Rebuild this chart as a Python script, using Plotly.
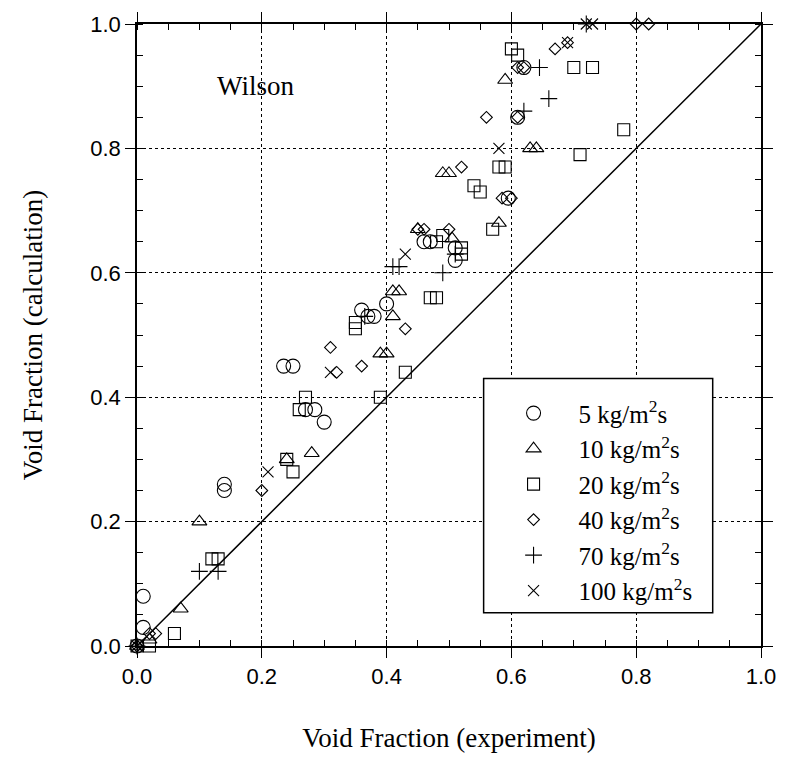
import plotly.graph_objects as go

# ---- data ----
g5_x = [0.0, 0.01, 0.01, 0.14, 0.14, 0.235, 0.25, 0.27, 0.285, 0.30, 0.36, 0.37, 0.38, 0.40, 0.46, 0.47, 0.51, 0.51, 0.595, 0.61, 0.62]
g5_y = [0.0, 0.03, 0.08, 0.25, 0.26, 0.45, 0.45, 0.38, 0.38, 0.36, 0.54, 0.53, 0.53, 0.55, 0.65, 0.65, 0.62, 0.64, 0.72, 0.85, 0.93]

g10_x = [0.0, 0.02, 0.07, 0.10, 0.24, 0.28, 0.39, 0.40, 0.41, 0.41, 0.42, 0.45, 0.505, 0.49, 0.50, 0.58, 0.59, 0.63, 0.64]
g10_y = [0.0, 0.01, 0.06, 0.20, 0.30, 0.31, 0.47, 0.47, 0.53, 0.57, 0.57, 0.67, 0.655, 0.76, 0.76, 0.68, 0.91, 0.80, 0.80]

g20_x = [0.0, 0.02, 0.06, 0.12, 0.13, 0.24, 0.25, 0.26, 0.27, 0.35, 0.35, 0.39, 0.43, 0.47, 0.48, 0.48, 0.49, 0.52, 0.52, 0.54, 0.55, 0.57, 0.58, 0.59, 0.60, 0.61, 0.70, 0.73, 0.71, 0.78]
g20_y = [0.0, 0.0, 0.02, 0.14, 0.14, 0.30, 0.28, 0.38, 0.40, 0.51, 0.52, 0.40, 0.44, 0.56, 0.56, 0.65, 0.66, 0.63, 0.64, 0.74, 0.73, 0.67, 0.77, 0.77, 0.96, 0.95, 0.93, 0.93, 0.79, 0.83]

g40_x = [0.0, 0.02, 0.03, 0.20, 0.31, 0.32, 0.36, 0.43, 0.45, 0.46, 0.50, 0.52, 0.56, 0.585, 0.60, 0.61, 0.61, 0.62, 0.67, 0.69, 0.80, 0.82]
g40_y = [0.0, 0.02, 0.02, 0.25, 0.48, 0.44, 0.45, 0.51, 0.67, 0.67, 0.67, 0.77, 0.85, 0.72, 0.72, 0.85, 0.93, 0.93, 0.96, 0.97, 1.0, 1.0]

g70_x = [0.0, 0.10, 0.13, 0.365, 0.41, 0.42, 0.49, 0.51, 0.62, 0.645, 0.66, 0.72]
g70_y = [0.0, 0.12, 0.12, 0.53, 0.61, 0.61, 0.60, 0.63, 0.86, 0.93, 0.88, 1.0]

g100_x = [0.0, 0.21, 0.31, 0.43, 0.58, 0.69, 0.72, 0.73]
g100_y = [0.0, 0.28, 0.44, 0.63, 0.80, 0.97, 1.0, 1.0]

labels = ["5 kg/m<sup>2</sup>s", "10 kg/m<sup>2</sup>s", "20 kg/m<sup>2</sup>s",
          "40 kg/m<sup>2</sup>s", "70 kg/m<sup>2</sup>s", "100 kg/m<sup>2</sup>s"]
diag = [0.0, 1.0]

SERIF = "Liberation Serif, Times New Roman, serif"
SANS = "Liberation Sans, Arial, sans-serif"

series = [
    (g5_x, g5_y, "circle-open", 14),
    (g10_x, g10_y, "triangle-up-open", 13),
    (g20_x, g20_y, "square-open", 12),
    (g40_x, g40_y, "diamond-open", 9),
    (g70_x, g70_y, "cross-thin-open", 12),
    (g100_x, g100_y, "x-thin-open", 11),
]

fig = go.Figure()
fig.add_trace(go.Scatter(x=diag, y=diag, mode="lines", line=dict(color="black", width=1.5),
                         showlegend=False, hoverinfo="skip"))
for (xs, ys, sym, sz), lab in zip(series, labels):
    fig.add_trace(go.Scatter(x=xs, y=ys, mode="markers", name=lab, cliponaxis=False,
                             marker=dict(symbol=sym, size=sz, color="black",
                                         line=dict(color="black", width=1.1))))

# legend frame
fig.add_shape(type="rect", xref="x", yref="y", x0=0.5555, x1=0.9226, y0=0.0535, y1=0.430,
              line=dict(color="black", width=1.5), fillcolor="white", layer="above")

fig.add_annotation(x=0.19, y=0.90, xref="x", yref="y", text="Wilson", showarrow=False,
                   font=dict(family=SERIF, size=27, color="black"))

axis_common = dict(
    range=[0, 1], tickvals=[0, 0.2, 0.4, 0.6, 0.8, 1.0], ticktext=["0.0", "0.2", "0.4", "0.6", "0.8", "1.0"],
    showgrid=True, gridcolor="black", griddash="dot", gridwidth=1,
    showline=True, linecolor="black", linewidth=1.5, mirror="ticks",
    ticks="outside", ticklen=10, tickwidth=1.2, tickcolor="black",
    minor=dict(dtick=0.05, ticks="inside", ticklen=6, tickwidth=1, tickcolor="black", showgrid=False),
    zeroline=False, tickfont=dict(family=SANS, size=22, color="black"),
)

fig.update_xaxes(**axis_common,
                 title=dict(text="Void Fraction (experiment)", font=dict(family=SERIF, size=27, color="black"), standoff=40))
fig.update_yaxes(**axis_common,
                 title=dict(text="Void Fraction (calculation)", font=dict(family=SERIF, size=27, color="black"), standoff=40))

fig.update_layout(
    width=788, height=760,
    margin=dict(l=137, r=24, t=20, b=113),
    plot_bgcolor="white", paper_bgcolor="white",
    legend=dict(x=0.5634, y=0.411, xanchor="left", yanchor="top", bgcolor="rgba(0,0,0,0)",
                borderwidth=0, itemwidth=80, font=dict(family=SERIF, size=25, color="black"),
                itemclick=False),
)

fig.write_html("out.html")
